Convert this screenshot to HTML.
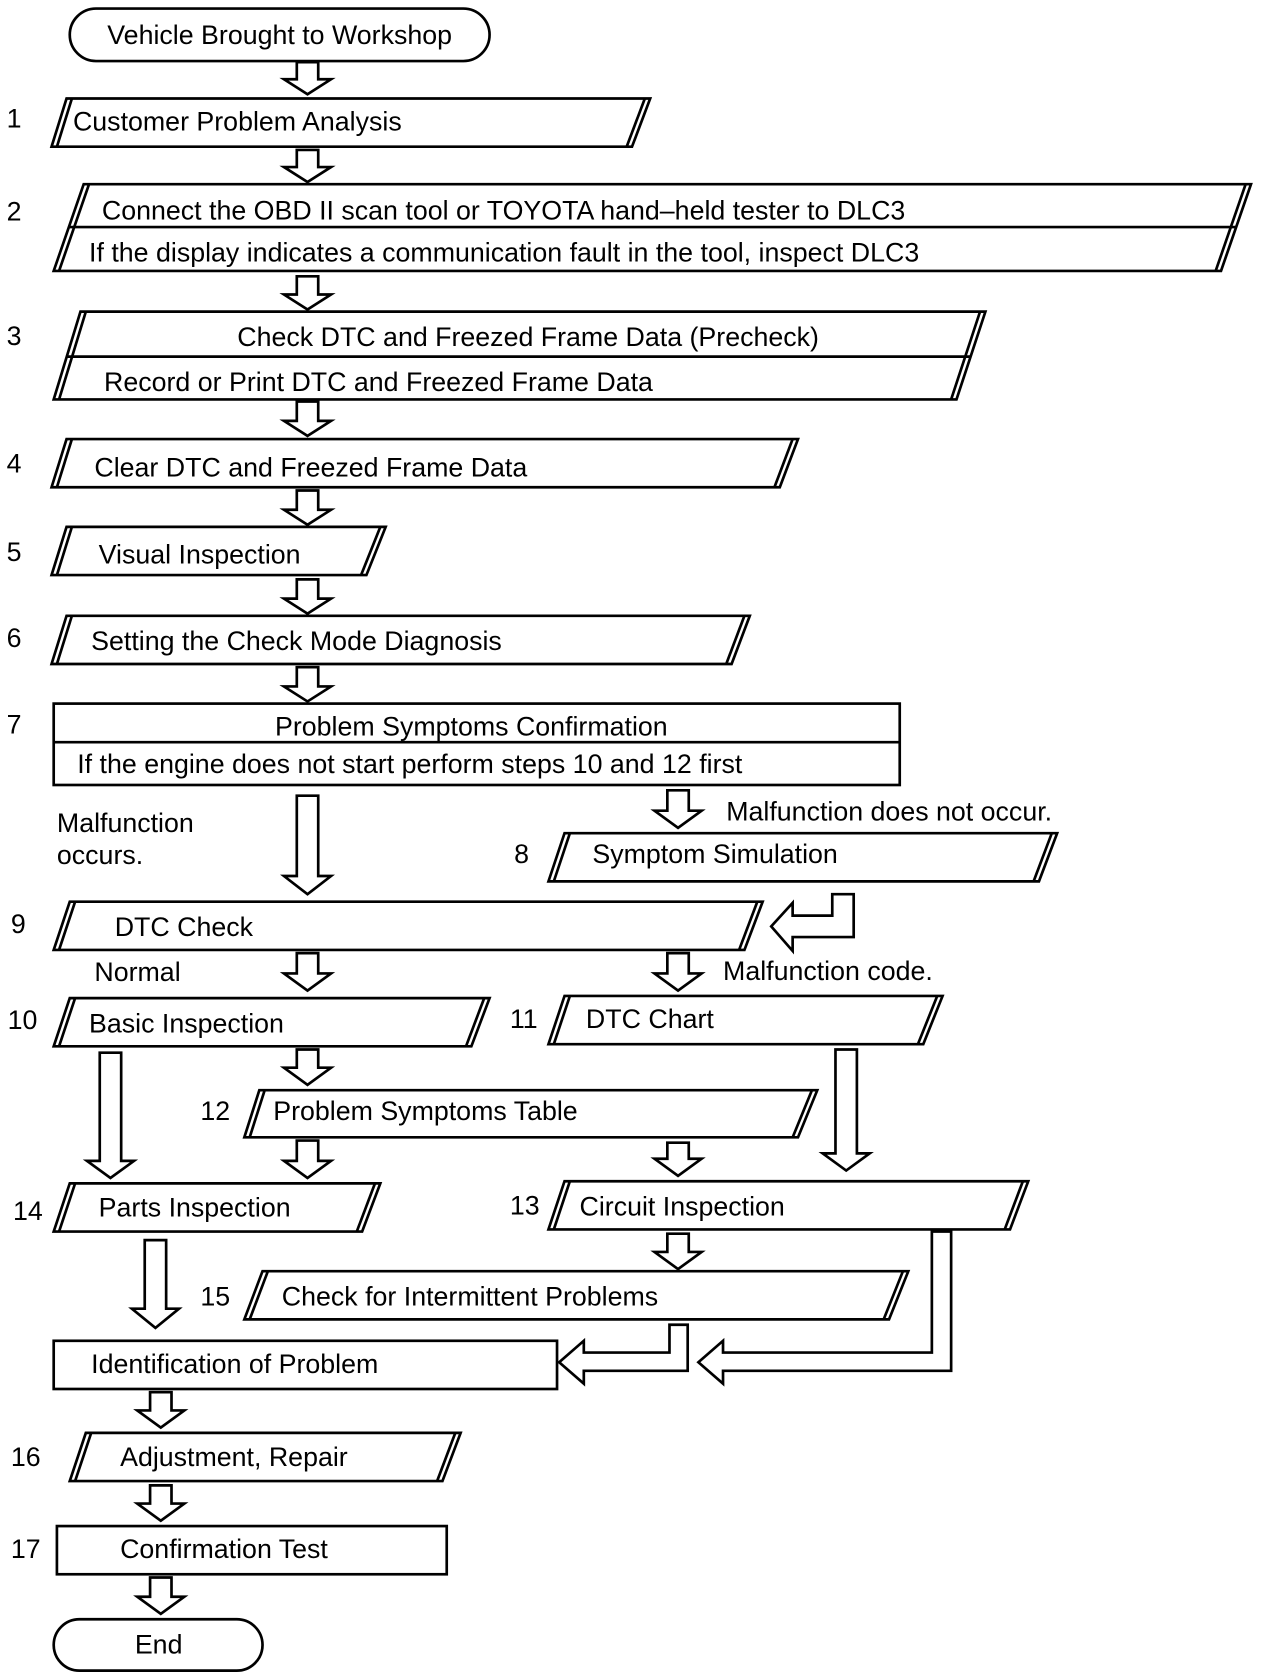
<!DOCTYPE html>
<html><head><meta charset="utf-8"><style>
html,body{margin:0;padding:0;background:#fff;}
svg{display:block}
text{font-family:"Liberation Sans",Arial,sans-serif;font-size:25px;fill:#000}
</style></head><body>
<svg width="1264" height="1676" viewBox="0 0 1180 1565" xmlns="http://www.w3.org/2000/svg">
<g fill="#fff" stroke="#000" stroke-width="2.5" stroke-linejoin="miter">
<!-- start -->
<rect x="65" y="8" width="392" height="49" rx="24.5"/>
<!-- parallelograms: top-left, bottom-left, top-right, bottom-right -->
<polygon points="62,92 607,92 590,137 48,137"/><line x1="67" y1="92" x2="53" y2="137"/><line x1="602" y1="92" x2="585" y2="137"/>
<polygon points="78,172 1168,172 1140,253 50,253"/><line x1="83" y1="172" x2="55" y2="253"/><line x1="1163" y1="172" x2="1135" y2="253"/><line x1="64" y1="212" x2="1154" y2="212"/>
<polygon points="75,291 920,291 893,373 50,373"/><line x1="80" y1="291" x2="55" y2="373"/><line x1="915" y1="291" x2="888" y2="373"/><line x1="62" y1="333" x2="907" y2="333"/>
<polygon points="62,410 745,410 728,455 48,455"/><line x1="67" y1="410" x2="53" y2="455"/><line x1="740" y1="410" x2="723" y2="455"/>
<polygon points="62,492 360,492 342,537 48,537"/><line x1="67" y1="492" x2="53" y2="537"/><line x1="355" y1="492" x2="337" y2="537"/>
<polygon points="62,575 700,575 683,620 48,620"/><line x1="67" y1="575" x2="53" y2="620"/><line x1="695" y1="575" x2="678" y2="620"/>
<rect x="50" y="657" width="790" height="76"/><line x1="50" y1="693" x2="840" y2="693"/>
<polygon points="527,778 987,778 970,823 512,823"/><line x1="532" y1="778" x2="517" y2="823"/><line x1="982" y1="778" x2="965" y2="823"/>
<polygon points="65,842 712,842 695,887 50,887"/><line x1="70" y1="842" x2="55" y2="887"/><line x1="707" y1="842" x2="690" y2="887"/>
<polygon points="65,932 457,932 440,977 50,977"/><line x1="70" y1="932" x2="55" y2="977"/><line x1="452" y1="932" x2="435" y2="977"/>
<polygon points="527,930 880,930 862,975 512,975"/><line x1="532" y1="930" x2="517" y2="975"/><line x1="875" y1="930" x2="857" y2="975"/>
<polygon points="242,1018 763,1018 745,1062 228,1062"/><line x1="247" y1="1018" x2="233" y2="1062"/><line x1="758" y1="1018" x2="740" y2="1062"/>
<polygon points="65,1105 355,1105 338,1150 50,1150"/><line x1="70" y1="1105" x2="55" y2="1150"/><line x1="350" y1="1105" x2="333" y2="1150"/>
<polygon points="527,1103 960,1103 943,1148 512,1148"/><line x1="532" y1="1103" x2="517" y2="1148"/><line x1="955" y1="1103" x2="938" y2="1148"/>
<polygon points="245,1187 848,1187 830,1232 228,1232"/><line x1="250" y1="1187" x2="233" y2="1232"/><line x1="843" y1="1187" x2="825" y2="1232"/>
<rect x="50" y="1252" width="470" height="45"/>
<polygon points="80,1338 430,1338 413,1383 65,1383"/><line x1="85" y1="1338" x2="70" y2="1383"/><line x1="425" y1="1338" x2="408" y2="1383"/>
<rect x="53" y="1425" width="364" height="45"/>
<rect x="50" y="1512" width="195" height="48" rx="24"/>

<!-- down arrows: shaft ±10, head ±22, head height 14 -->
<polygon points="277,58 297,58 297,74 309,74 287,88 265,74 277,74"/>
<polygon points="277,140 297,140 297,156 309,156 287,170 265,156 277,156"/>
<polygon points="277,258 297,258 297,275 309,275 287,289 265,275 277,275"/>
<polygon points="277,375 297,375 297,393 309,393 287,407 265,393 277,393"/>
<polygon points="277,458 297,458 297,476 309,476 287,490 265,476 277,476"/>
<polygon points="277,541 297,541 297,559 309,559 287,573 265,559 277,559"/>
<polygon points="277,623 297,623 297,641 309,641 287,655 265,641 277,641"/>
<polygon points="277,743 297,743 297,818 309,818 287,835 265,818 277,818"/>
<polygon points="623,738 643,738 643,757 655,757 633,773 611,757 623,757"/>
<polygon points="277,890 297,890 297,909 309,909 287,925 265,909 277,909"/>
<polygon points="623,890 643,890 643,909 655,909 633,925 611,909 623,909"/>
<polygon points="277,980 297,980 297,997 309,997 287,1013 265,997 277,997"/>
<polygon points="93,983 113,983 113,1084 125,1084 103,1100 81,1084 93,1084"/>
<polygon points="780,980 800,980 800,1077 812,1077 790,1093 768,1077 780,1077"/>
<polygon points="277,1065 297,1065 297,1084 309,1084 287,1100 265,1084 277,1084"/>
<polygon points="623,1067 643,1067 643,1082 655,1082 633,1098 611,1082 623,1082"/>
<polygon points="623,1152 643,1152 643,1169 655,1169 633,1185 611,1169 623,1169"/>
<polygon points="135,1158 155,1158 155,1222 167,1222 145,1240 123,1222 135,1222"/>
<polygon points="140,1300 160,1300 160,1317 172,1317 150,1333 128,1317 140,1317"/>
<polygon points="140,1387 160,1387 160,1404 172,1404 150,1420 128,1404 140,1404"/>
<polygon points="140,1473 160,1473 160,1491 172,1491 150,1507 128,1491 140,1491"/>

<!-- L arrows pointing left -->
<polygon points="777,835 797,835 797,875 740,875 740,888 720,865 740,843 740,855 777,855"/>
<polygon points="625,1237 642,1237 642,1280 545,1280 545,1292 522,1272 545,1252 545,1263 625,1263"/>
<polygon points="870,1150 888,1150 888,1280 675,1280 675,1292 652,1272 675,1252 675,1263 870,1263"/>
</g>

<g>
<text x="261" y="41" text-anchor="middle">Vehicle Brought to Workshop</text>
<text x="6" y="119">1</text>
<text x="68" y="122">Customer Problem Analysis</text>
<text x="6" y="206">2</text>
<text x="95" y="205">Connect the OBD II scan tool or TOYOTA hand–held tester to DLC3</text>
<text x="83" y="244">If the display indicates a communication fault in the tool, inspect DLC3</text>
<text x="6" y="322">3</text>
<text x="493" y="323" text-anchor="middle">Check DTC and Freezed Frame Data (Precheck)</text>
<text x="97" y="365">Record or Print DTC and Freezed Frame Data</text>
<text x="6" y="441">4</text>
<text x="88" y="445">Clear DTC and Freezed Frame Data</text>
<text x="6" y="524">5</text>
<text x="92" y="526">Visual Inspection</text>
<text x="6" y="604">6</text>
<text x="85" y="607">Setting the Check Mode Diagnosis</text>
<text x="6" y="685">7</text>
<text x="440" y="687" text-anchor="middle">Problem Symptoms Confirmation</text>
<text x="72" y="722">If the engine does not start perform steps 10 and 12 first</text>
<text x="53" y="777">Malfunction</text>
<text x="53" y="807">occurs.</text>
<text x="678" y="766">Malfunction does not occur.</text>
<text x="480" y="806">8</text>
<text x="553" y="806">Symptom Simulation</text>
<text x="10" y="871">9</text>
<text x="107" y="874">DTC Check</text>
<text x="88" y="916">Normal</text>
<text x="675" y="915">Malfunction code.</text>
<text x="7" y="961">10</text>
<text x="83" y="964">Basic Inspection</text>
<text x="476" y="960">11</text>
<text x="547" y="960">DTC Chart</text>
<text x="187" y="1046">12</text>
<text x="255" y="1046">Problem Symptoms Table</text>
<text x="12" y="1139">14</text>
<text x="92" y="1136">Parts Inspection</text>
<text x="476" y="1134">13</text>
<text x="541" y="1135">Circuit Inspection</text>
<text x="187" y="1219">15</text>
<text x="263" y="1219">Check for Intermittent Problems</text>
<text x="85" y="1282">Identification of Problem</text>
<text x="10" y="1369">16</text>
<text x="112" y="1369">Adjustment, Repair</text>
<text x="10" y="1455">17</text>
<text x="112" y="1455">Confirmation Test</text>
<text x="148" y="1544" text-anchor="middle">End</text>
</g>
</svg>
</body></html>
